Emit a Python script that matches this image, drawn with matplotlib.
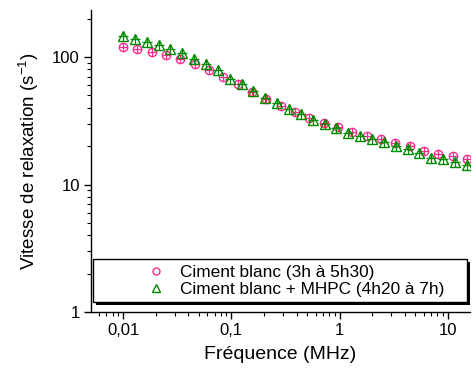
import matplotlib
matplotlib.use("Agg")
import matplotlib.pyplot as plt
from matplotlib.patches import Rectangle
from matplotlib.ticker import FixedLocator, FixedFormatter, LogLocator, NullFormatter

plt.rcParams['font.family'] = ['Liberation Sans', 'DejaVu Sans']
plt.rcParams['mathtext.fontset'] = 'custom'
plt.rcParams['mathtext.rm'] = 'Liberation Sans'
plt.rcParams['mathtext.it'] = 'Liberation Sans'

# Data
freq_blanc = [0.01, 0.01356, 0.01839, 0.02494, 0.03382, 0.04586, 0.06219, 0.08434,
              0.1144, 0.1551, 0.2103, 0.2852, 0.3868, 0.5245, 0.7113, 0.9646,
              1.308, 1.774, 2.406, 3.262, 4.424, 5.999, 8.135, 11.03, 14.96]
r_blanc = [119, 116, 109, 104, 96.4, 87.7, 78.7, 70.0, 61.1, 52.9, 46.6, 41.3,
           37.3, 33.5, 30.5, 28.4, 25.6, 24.1, 22.8, 21.0, 20.2, 18.4, 17.3, 16.8, 15.8]

freq_mhpc = [0.01, 0.01287, 0.01656, 0.02131, 0.02742, 0.03528, 0.0454, 0.05842,
             0.07517, 0.09673, 0.1245, 0.1602, 0.2061, 0.2652, 0.3412, 0.4391,
             0.5651, 0.7271, 0.9357, 1.204, 1.549, 1.994, 2.565, 3.301, 4.248,
             5.466, 7.034, 9.051, 11.65, 14.99]
r_mhpc = [147, 138, 132, 124, 116, 107, 96.4, 87.7, 79.1, 67.2, 61.1, 54.4, 48.0,
          43.4, 39.1, 35.5, 32.1, 29.7, 27.6, 25.5, 24.1, 22.8, 21.4, 19.9, 18.9,
          17.8, 16.2, 15.8, 15.1, 14.2]

labels = ['Ciment blanc (3h à 5h30)', 'Ciment blanc + MHPC (4h20 à 7h)']
x_ticks = [0.01, 0.1, 1, 10]
x_ticklabels = ['0,01', '0,1', '1', '10']
y_ticks = [1, 10, 100]
y_ticklabels = ['1', '10', '100']

pink = '#ff2a8f'
green = '#008a00'

fig = plt.figure(figsize=(4.73, 3.69), dpi=100)
ax = fig.add_axes([91/473, 57/369, 379/473, 302/369])

ax.plot(freq_blanc, r_blanc, linestyle='none', marker='o', markersize=6,
        markerfacecolor='none', markeredgecolor=pink, markeredgewidth=1.0, zorder=3)
ax.plot(freq_blanc, r_blanc, linestyle='none', marker='+', markersize=6,
        markeredgecolor=pink, markeredgewidth=0.9, zorder=3)
ax.plot(freq_mhpc, r_mhpc, linestyle='none', marker='^', markersize=6.5,
        markerfacecolor='none', markeredgecolor=green, markeredgewidth=1.0, zorder=4)
ax.plot(freq_mhpc, r_mhpc, linestyle='none', marker='+', markersize=7,
        markeredgecolor=green, markeredgewidth=0.9, zorder=4)

ax.set_xscale('log')
ax.set_yscale('log')
ax.set_xlim(0.00506, 16)
ax.set_ylim(1, 234)

ax.xaxis.set_major_locator(FixedLocator(x_ticks))
ax.xaxis.set_major_formatter(FixedFormatter(x_ticklabels))
ax.yaxis.set_major_locator(FixedLocator(y_ticks))
ax.yaxis.set_major_formatter(FixedFormatter(y_ticklabels))
ax.xaxis.set_minor_locator(LogLocator(base=10, subs=range(2, 10), numticks=20))
ax.yaxis.set_minor_locator(LogLocator(base=10, subs=range(2, 10), numticks=20))
ax.xaxis.set_minor_formatter(NullFormatter())
ax.yaxis.set_minor_formatter(NullFormatter())

for s in ['top', 'right']:
    ax.spines[s].set_visible(False)
for s in ['left', 'bottom']:
    ax.spines[s].set_linewidth(1.0)
ax.tick_params(which='major', direction='out', length=5, width=1.0, labelsize=12, pad=3)
ax.tick_params(which='minor', direction='out', length=3, width=0.8)

ax.set_xlabel('Fréquence (MHz)', fontsize=14, labelpad=6)
ax.set_ylabel('Vitesse de relaxation (s$^{-1}$)', fontsize=13.5, labelpad=8)

# Legend box with black shadow
bx0, by0, bw, bh = 0.005, 0.033, 0.987, 0.142
ax.add_patch(Rectangle((bx0 + 0.007, by0 - 0.010), bw, bh, transform=ax.transAxes,
                       facecolor='black', edgecolor='none', zorder=5, clip_on=False))
ax.add_patch(Rectangle((bx0, by0), bw, bh, transform=ax.transAxes,
                       facecolor='white', edgecolor='black', linewidth=1.0,
                       zorder=6, clip_on=False))
h1, = ax.plot([], [], linestyle='none', marker='o', markersize=5,
              markerfacecolor='none', markeredgecolor=pink, markeredgewidth=1.0)
h2, = ax.plot([], [], linestyle='none', marker='^', markersize=5.5,
              markerfacecolor='none', markeredgecolor=green, markeredgewidth=1.0)
leg = ax.legend([h1, h2], labels, loc='center left',
                bbox_to_anchor=((147 - 91) / 379, by0 + bh / 2),
                frameon=False, fontsize=12.4, handlelength=1.0, handletextpad=0.9,
                labelspacing=0.12, borderpad=0, borderaxespad=0)
leg.set_zorder(7)

fig.savefig('out.png', dpi=100)
